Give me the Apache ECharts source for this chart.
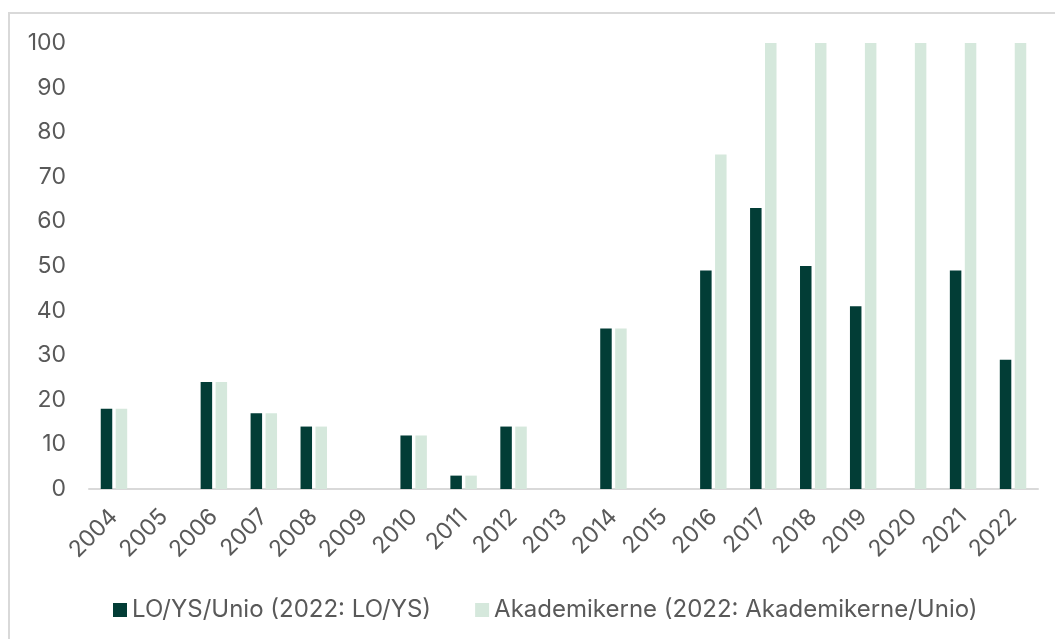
<!DOCTYPE html>
<html>
<head>
<meta charset="utf-8">
<script src="https://cdn.jsdelivr.net/npm/echarts@6/dist/echarts.min.js"></script>
<style>
  html, body { margin: 0; padding: 0; background: #fff; }
  #chart { width: 1055px; height: 639px; }
</style>
</head>
<body>
<div id="chart"></div>
<script>
const years = ['2004', '2005', '2006', '2007', '2008', '2009', '2010', '2011', '2012', '2013',
  '2014', '2015', '2016', '2017', '2018', '2019', '2020', '2021', '2022'];
const loYsUnio = [18, null, 24, 17, 14, null, 12, 3, 14, null, 36, null, 49, 63, 50, 41, null, 49, 29];
const akademikerne = [18, null, 24, 17, 14, null, 12, 3, 14, null, 36, null, 75, 100, 100, 100, 100, 100, 100];
const seriesNames = ['LO/YS/Unio (2022: LO/YS)', 'Akademikerne (2022: Akademikerne/Unio)'];

const myChart = echarts.init(document.getElementById('chart'));
const option = {
  animation: false,
  textStyle: { fontFamily: 'Inter' },
  graphic: [{
    type: 'rect',
    shape: { x: 9, y: 13, width: 1100, height: 700 },
    style: { fill: 'none', stroke: '#d9d9d9', lineWidth: 2 },
    silent: true
  }],
  grid: { left: 89, right: 17, top: 43, bottom: 150 },
  legend: {
    top: 593,
    left: 108,
    itemWidth: 14,
    itemHeight: 14,
    itemGap: 44,
    icon: 'rect',
    textStyle: { fontSize: 24, color: '#595959', fontFamily: 'Inter' },
    data: seriesNames
  },
  xAxis: {
    type: 'category',
    data: years,
    axisLine: { lineStyle: { color: '#d9d9d9', width: 2 } },
    axisTick: { show: false },
    axisLabel: { rotate: 45, fontSize: 23, color: '#595959', margin: 24, interval: 0 }
  },
  yAxis: {
    type: 'value',
    min: 0,
    max: 100,
    interval: 10,
    splitLine: { show: false },
    axisLine: { show: false },
    axisTick: { show: false },
    axisLabel: { fontSize: 23, color: '#595959', margin: 23 }
  },
  series: [
    {
      name: seriesNames[0],
      type: 'bar',
      data: loYsUnio,
      barWidth: 11.5,
      barGap: '30%',
      itemStyle: { color: '#023d36' }
    },
    {
      name: seriesNames[1],
      type: 'bar',
      data: akademikerne,
      barWidth: 11.5,
      itemStyle: { color: '#d5e8dc' }
    }
  ]
};
myChart.setOption(option);
</script>
</body>
</html>
